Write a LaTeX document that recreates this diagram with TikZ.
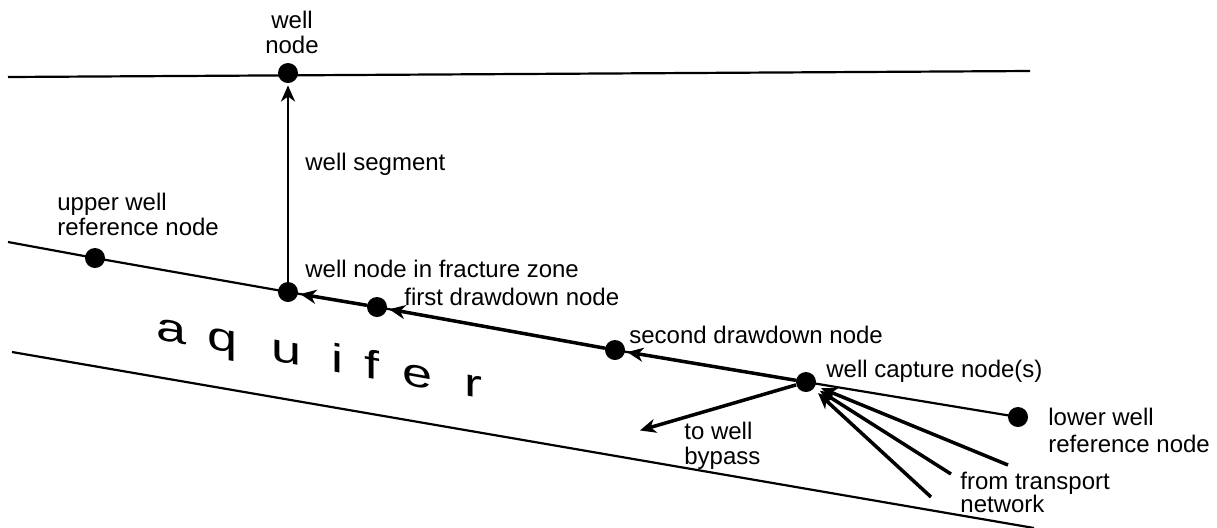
\documentclass[tikz,border=0pt]{standalone}
\usepackage{fontspec}
\setmainfont{Liberation Sans}
\usetikzlibrary{arrows.meta}
\begin{document}
\begin{tikzpicture}[x=0.5pt,y=-0.5pt,
  dot/.style={circle,fill=black,inner sep=0pt,minimum size=10pt},
  bedline/.style={line width=1.1pt},
  flow/.style={line width=1.75pt,-{Stealth[length=8pt,width=7pt,inset=2.4pt]},shorten >=1pt},
  lbl/.style={font=\fontsize{12}{12.5}\selectfont,inner sep=0pt,anchor=base west,align=left},
  aqletter/.style={font=\fontsize{20}{20}\selectfont,inner sep=0pt,anchor=base,yslant=-0.18,xscale=1.35}]
\useasboundingbox (0,0) rectangle (1217,527);

% nodes of the well network
\node[dot] (wtop) at (288,73)  {};
\node[dot] (wfz)  at (288,292) {};
\node[dot] (uref) at (95,258)  {};
\node[dot] (dd1)  at (377,307) {};
\node[dot] (dd2)  at (615,350) {};
\node[dot] (cap)  at (806,382) {};
\node[dot] (lref) at (1018,417) {};

% free ends of lines and arrows
\coordinate (topL) at (8,77);
\coordinate (topR) at (1030,71);
\coordinate (aqL)  at (8,242);
\coordinate (botL) at (12,352);
\coordinate (botR) at (1034,528);
\coordinate (byp)  at (638,431);
\coordinate (tr1)  at (1008,465);
\coordinate (tr2)  at (951,474);
\coordinate (tr3)  at (931,497);

% ground surface and aquifer boundaries
\draw[bedline] (topL) -- (topR);
\draw[bedline] (aqL) -- (uref.center) -- (wfz.center) -- (dd1.center)
  -- (dd2.center) -- (cap.center) -- (lref.center);
\draw[bedline] (botL) -- (botR);

% well segment and drawdown chain
\draw[flow,line width=1.45pt] (wfz) -- (wtop);
\draw[flow] (cap) -- (dd2);
\draw[flow] (dd2) -- (dd1);
\draw[flow] (dd1) -- (wfz);
\draw[flow] (cap) -- (byp);
\draw[flow,shorten >=3pt] (tr1) -- (cap);
\draw[flow,shorten >=3pt] (tr2) -- (cap);
\draw[flow,shorten >=3pt] (tr3) -- (cap);

% labels (multi-line labels sit on the baseline of their last line)
\node[lbl,anchor=base,align=center] (lwtop) at (292,53) {well\\node};
\node[lbl] (lseg)  at (305,170) {well segment};
\node[lbl] (luref) at (57,235)  {upper well\\reference node};
\node[lbl] (lwfz)  at (305,277) {well node in fracture zone};
\node[lbl] (ldd1)  at (404,305) {first drawdown node};
\node[lbl] (ldd2)  at (629,343) {second drawdown node};
\node[lbl] (lcap)  at (826,377) {well capture node(s)};
\node[lbl,font=\fontsize{12}{13.5}\selectfont] (llref) at (1048,452) {lower well\\reference node};
\node[lbl] (lbyp)  at (684,464) {to well\\bypass};
\node[lbl,font=\fontsize{12}{11.5}\selectfont] (ltr)   at (960,512) {from transport\\network};

% stretched, sheared aquifer lettering along the layer
\foreach \ch/\px/\py [count=\k] in {a/172/342,q/223/351.3,u/287/363,i/337/372.2,f/372/378.6,e/418/387,r/473/397}
  \node[aqletter] (aq\k) at (\px,\py) {\ch};
\end{tikzpicture}
\end{document}
